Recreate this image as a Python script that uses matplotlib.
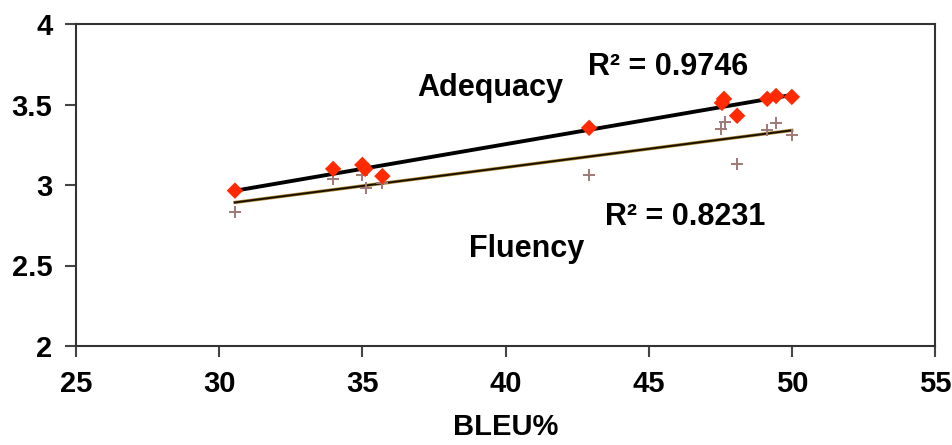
import numpy as np
import matplotlib
matplotlib.use('Agg')
import matplotlib.pyplot as plt

plt.rcParams['font.family'] = ['Liberation Sans', 'DejaVu Sans']

# Adequacy (red diamonds)
adq_bleu = [30.55, 33.98, 35.0, 35.1, 35.7, 42.92, 47.56, 47.63, 48.09, 49.14, 49.45, 50.0]
adq_score = [2.965, 3.10, 3.125, 3.10, 3.055, 3.355, 3.51, 3.535, 3.43, 3.535, 3.553, 3.547]

# Fluency (crosses)
flu_bleu = [30.55, 33.98, 35.0, 35.13, 35.7, 42.92, 47.53, 47.67, 48.09, 49.14, 49.45, 50.0]
flu_score = [2.83, 3.04, 3.06, 2.98, 3.01, 3.065, 3.35, 3.39, 3.13, 3.34, 3.385, 3.31]

W, H = 953, 445
fig = plt.figure(figsize=(W / 100, H / 100), dpi=100)
ax = fig.add_axes([76 / W, 1 - 346 / H, (935 - 76) / W, (346 - 24) / H])

# trend lines
xs = np.array([min(adq_bleu), max(adq_bleu)])
p = np.polyfit(adq_bleu, adq_score, 1)
ax.plot(xs, np.polyval(p, xs), color='black', lw=2.8, zorder=2)
xs2 = np.array([min(flu_bleu), max(flu_bleu)])
p2 = np.polyfit(flu_bleu, flu_score, 1)
ax.plot(xs2, np.polyval(p2, xs2), color='#b08a30', lw=2.4, zorder=2)
ax.plot(xs2, np.polyval(p2, xs2), color='#1a1000', lw=1.4, zorder=2)

ax.scatter(flu_bleu, flu_score, marker='+', s=80, color='#a07878', lw=1.4, zorder=3)
ax.scatter(adq_bleu, adq_score, marker='D', s=70, color='#ff2a00', edgecolor='none', zorder=4)

ax.set_xlim(25, 55)
ax.set_ylim(2, 4)
ax.set_xticks([25, 30, 35, 40, 45, 50, 55])
ax.set_yticks([2, 2.5, 3, 3.5, 4])
ax.set_yticklabels(['2', '2.5', '3', '3.5', '4'])
for s in ax.spines.values():
    s.set_linewidth(1.5)
    s.set_color('#333333')
ax.tick_params(direction='out', length=8, width=1.5, color='#444444',
               labelsize=21, pad=9)
for lab in ax.get_xticklabels() + ax.get_yticklabels():
    lab.set_fontweight('bold')
ax.set_xlabel('BLEU%', fontsize=21, fontweight='bold', labelpad=11)

def px_text(x, y, s, **kw):
    fig.text(x / W, 1 - y / H, s, fontsize=22, fontweight='bold', va='baseline', **kw)

px_text(490, 96, 'Adequacy', ha='center')
px_text(527, 257, 'Fluency', ha='center')
px_text(588, 75, 'R² = 0.9746', ha='left')
px_text(605, 225, 'R² = 0.8231', ha='left')

fig.savefig('out.png', dpi=100)
